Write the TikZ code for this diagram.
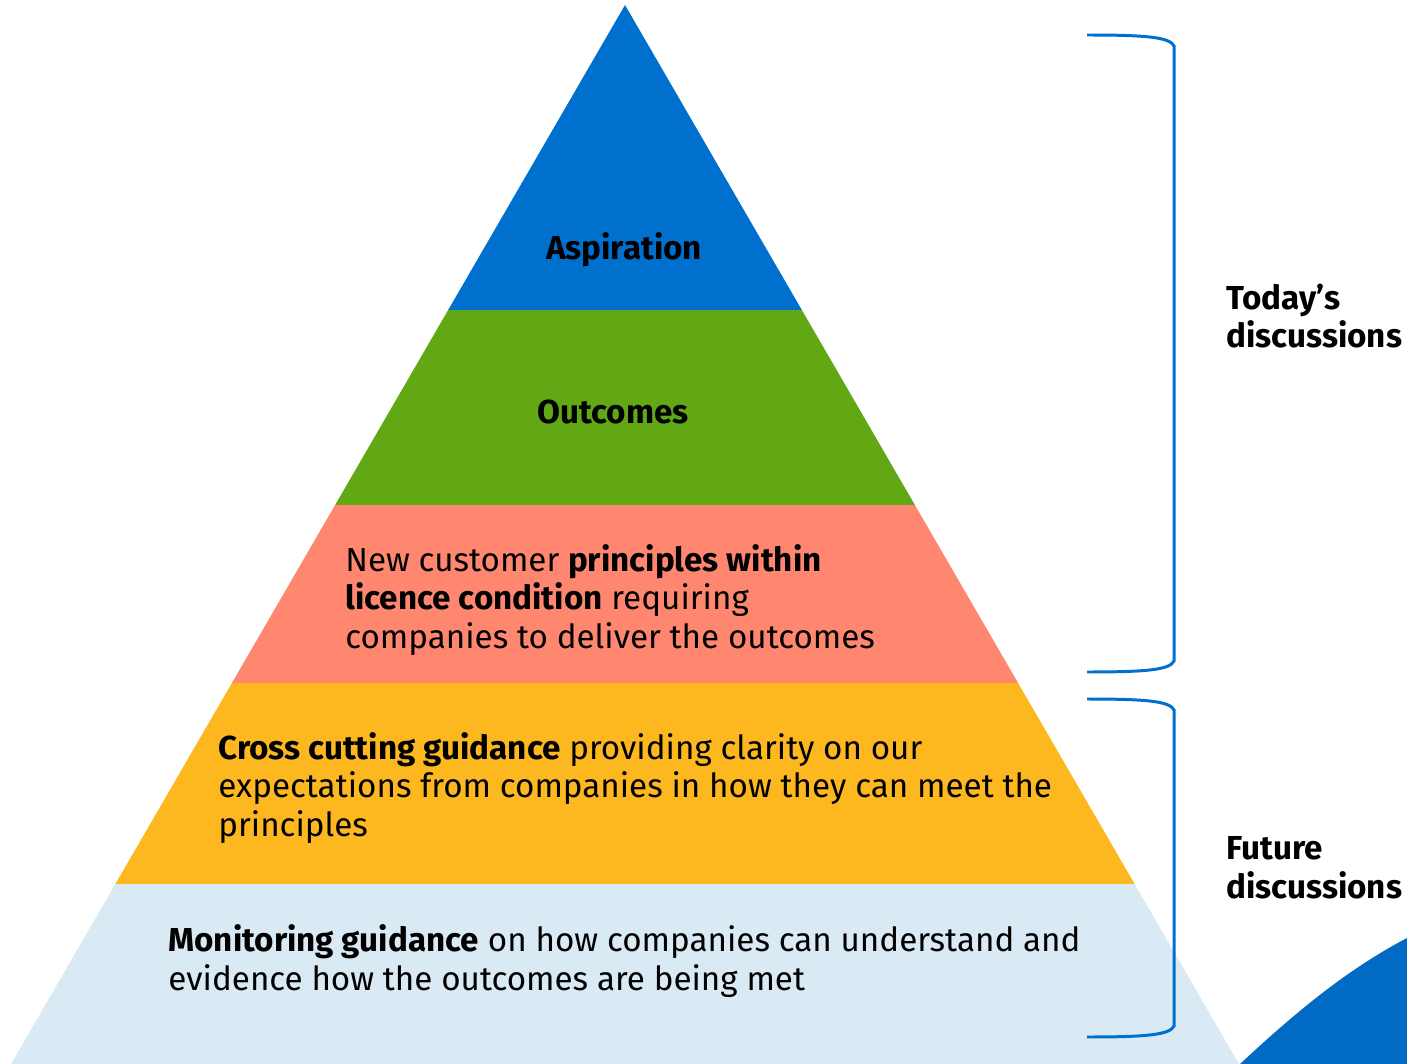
\documentclass[tikz,border=0pt]{standalone}
\usepackage{fontspec}
\setmainfont{Fira Sans}
\tikzset{>=stealth}
\definecolor{topblue}{RGB}{0,112,206}
\definecolor{leafgreen}{RGB}{98,168,20}
\definecolor{salmon}{RGB}{255,135,112}
\definecolor{amber}{RGB}{253,183,31}
\definecolor{paleblue}{RGB}{218,234,244}
\tikzset{
    layer/.style={font=\fontsize{18.9}{21.9}\selectfont, align=left, inner sep=0pt, anchor=base west},
    title/.style={font=\fontsize{18.9}{21.9}\selectfont\bfseries, inner sep=0pt, anchor=base},
    side/.style={font=\fontsize{18.9}{21.9}\selectfont\bfseries, align=left, inner sep=0pt, anchor=base west},
    brace/.style={draw=topblue, line width=1.7pt}
}

\begin{document}
\begin{tikzpicture}[x=0.02cm, y=-0.02cm]
    \useasboundingbox (0,0) rectangle (1407,1064);
    \coordinate (apex) at (625,5);
    \coordinate (bl) at (11,1064);
    \coordinate (br) at (1239,1064);
    % bands of the pyramid
    \begin{scope}
        \clip (apex) -- (br) -- (bl) -- cycle;
        \fill[topblue] (0,0) rectangle (1407,310);
        \fill[leafgreen] (0,310) rectangle (1407,505);
        \fill[salmon] (0,505) rectangle (1407,683);
        \fill[amber] (0,683) rectangle (1407,884);
        \fill[paleblue] (0,884) rectangle (1407,1064);
    \end{scope}
    % corner shape
    \fill[topblue!95!black] (1240,1064) .. controls (1300,1008) and (1350,968) .. (1407,938) -- (1407,1064) -- cycle;

    % base anchors sit on the last line
    \node[title] (aspiration) at (624,260) {Aspiration};
    \node[title] (outcomes) at (613,423) {Outcomes};
    \node[layer] (principles) at (345,648)
        {New customer \textbf{principles within}\\\textbf{licence condition} requiring\\companies to deliver the outcomes};
    \node[layer] (crosscut) at (218,836)
        {\textbf{Cross cutting guidance} providing clarity on our\\expectations from companies in how they can meet the\\principles};
    \node[layer] (monitoring) at (168,990)
        {\textbf{Monitoring guidance} on how companies can understand and\\evidence how the outcomes are being met};

    % brackets on the right
    \coordinate (t1) at (1087,35);
    \coordinate (t2) at (1087,672);
    \coordinate (f1) at (1087,699);
    \coordinate (f2) at (1087,1037);
    \draw[brace] (t1) .. controls (1145,35) and (1170,37) .. (1174,46) -- (1174,661) .. controls (1170,670) and (1145,672) .. (t2);
    \draw[brace] (f1) .. controls (1145,699) and (1170,701) .. (1174,710) -- (1174,1026) .. controls (1170,1035) and (1145,1037) .. (f2);
    \node[side] (today) at (1226,348) {Today’s\\discussions};
    \node[side] (future) at (1226,898) {Future\\discussions};
\end{tikzpicture}
\end{document}
